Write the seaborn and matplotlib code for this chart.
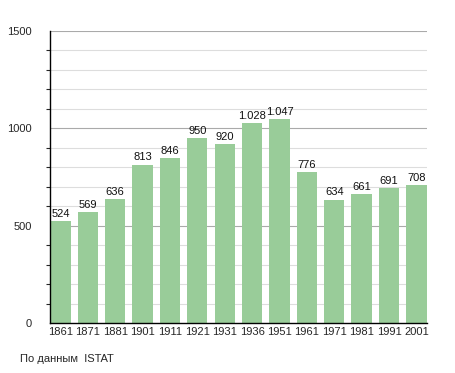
import matplotlib
matplotlib.use("Agg")
import matplotlib.pyplot as plt
import seaborn as sns
import pandas as pd
from matplotlib.ticker import MultipleLocator

years = ["1861", "1871", "1881", "1901", "1911", "1921", "1931",
         "1936", "1951", "1961", "1971", "1981", "1991", "2001"]
population = [524, 569, 636, 813, 846, 950, 920, 1028, 1047, 776, 634, 661, 691, 708]

df = pd.DataFrame({"year": years, "pop": population})

sns.set_style("white")
plt.rcParams["font.family"] = ["Liberation Sans", "DejaVu Sans"]

fig = plt.figure(figsize=(4.55, 3.73), dpi=100)
ax = fig.add_axes([0.110, 0.134, 0.828, 0.783])

# grid lines behind bars
for v in range(100, 1501, 100):
    major = v % 500 == 0
    ax.axhline(v, color="#aaaaaa" if major else "#dddddd", lw=0.8, zorder=0)

bar_w = 0.74
sns.barplot(data=df, x="year", y="pop", color="#99cc99", saturation=1,
            width=bar_w, linewidth=0, ax=ax, zorder=2)

for i, v in enumerate(population):
    label = f"{v:,}".replace(",", ".")
    ax.text(i, v + 12, label, ha="center", va="bottom", fontsize=8, color="#111111")

ax.set_ylim(0, 1500)
ax.set_xlim(-bar_w / 2 - 0.01, len(years) - 1 + bar_w / 2 + 0.01)
ax.yaxis.set_major_locator(MultipleLocator(500))
ax.yaxis.set_minor_locator(MultipleLocator(100))
ax.tick_params(axis="y", which="major", length=5, width=0.8, labelsize=8, pad=8)
ax.tick_params(axis="y", which="minor", length=3, width=0.8, left=True)
ax.tick_params(axis="x", length=0, labelsize=8, pad=3)
ax.set_xlabel("")
ax.set_ylabel("")
for s in ["top", "right"]:
    ax.spines[s].set_visible(False)
ax.spines["left"].set_color("black")
ax.spines["bottom"].set_color("black")
ax.spines["left"].set_linewidth(1.0)
ax.spines["bottom"].set_linewidth(1.0)

fig.text(0.044, 0.025, "По данным  ISTAT", fontsize=8, ha="left", va="bottom")

fig.savefig("out.png", dpi=100)
